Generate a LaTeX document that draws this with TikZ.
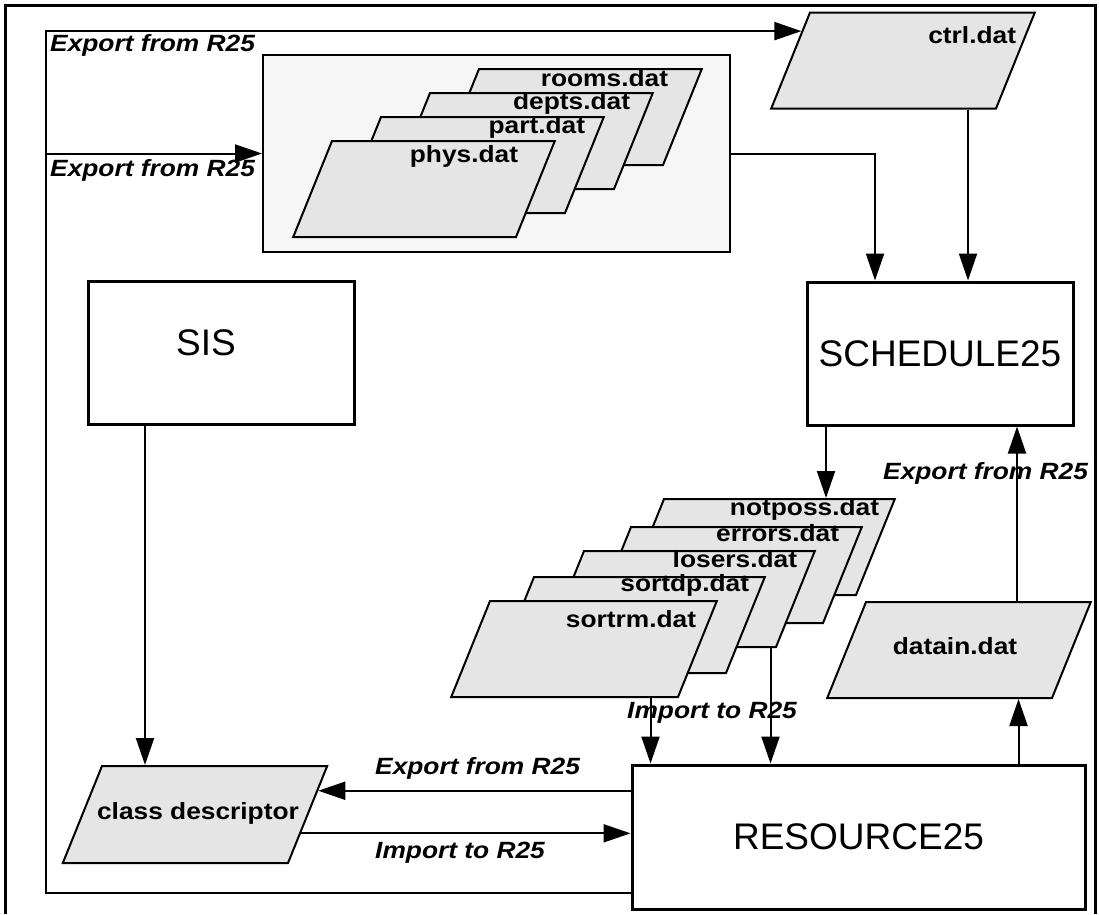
\documentclass[tikz,border=0pt]{standalone}
\usepackage{fontspec}
\setmainfont{Liberation Sans}
\newfontfamily\filefont[FakeStretch=1.12]{Liberation Sans}
\usetikzlibrary{arrows.meta,shapes.geometric,calc}

\definecolor{filegray}{gray}{0.9}
\definecolor{batchgray}{gray}{0.965}

\begin{document}
\begin{tikzpicture}[x=1pt, y=-1pt,
    every node/.style={inner sep=0pt},
    flow/.style={line width=2pt, -{Triangle[length=27pt, width=18pt]}},
    system/.style={rectangle, draw, line width=3pt, minimum width=266pt, minimum height=143pt,
        font=\fontsize{37}{40}\selectfont},
    datafile/.style={trapezium, trapezium left angle=68, trapezium right angle=112, draw,
        fill=filegray, line width=2pt, inner xsep=93pt, inner ysep=48pt},
    filename/.style={font=\filefont\bfseries\fontsize{23.5}{26}\selectfont},
    via/.style={font=\filefont\bfseries\itshape\fontsize{23.5}{26}\selectfont, anchor=base west}]

    \useasboundingbox (0,0) rectangle (1099,914);

    % outer frame
    \draw[line width=3pt] (5,914) -- (5,5) -- (1095,5) -- (1095,914);

    % R25 batch files
    \node[draw, fill=batchgray, line width=2pt, minimum width=467pt, minimum height=197pt] (batch) at (496.5,153.5) {};
    \node[datafile, inner xsep=92pt] (rooms) at (571,117) {};
    \node[datafile, inner xsep=92pt] (depts) at (522,141) {};
    \node[datafile, inner xsep=92pt] (part) at (473,165) {};
    \node[datafile, inner xsep=92pt] (phys) at (424,189) {};
    \node[filename, anchor=base east] (roomsname) at ($(rooms.top right corner)+(-35,18)$) {rooms.dat};
    \node[filename, anchor=base east] (deptsname) at ($(depts.top right corner)+(-24,17)$) {depts.dat};
    \node[filename, anchor=base east] (partname) at ($(part.top right corner)+(-20,17)$) {part.dat};
    \node[filename, anchor=base east] (physname) at ($(phys.top right corner)+(-38,22)$) {phys.dat};

    % control file
    \node[datafile] (ctrl) at (903,60.5) {};
    \node[filename, anchor=base east] (ctrlname) at ($(ctrl.top right corner)+(-20,32)$) {ctrl.dat};

    % systems
    \node[system] (sis) at (221,352.5) {};
    \node[font=\fontsize{37}{40}\selectfont] (sisname) at ($(sis)+(-15,-10)$) {SIS};
    \node[system] (sched) at (940,353.5) {SCHEDULE25};
    \node[system, minimum width=453pt, minimum height=144pt] (res) at (858.5,837) {RESOURCE25};

    % SCHEDULE25 output files
    \node[datafile, inner xsep=96pt] (notposs) at (760,547) {};
    \node[datafile, inner xsep=96pt] (errors) at (727,575) {};
    \node[datafile, inner xsep=96pt] (losers) at (680,599) {};
    \node[datafile, inner xsep=96pt] (sortdp) at (630,625) {};
    \node[datafile, inner xsep=94pt] (sortrm) at (584,649) {};
    \node[filename, anchor=base east] (notpossname) at ($(notposs.top right corner)+(-17,17)$) {notposs.dat};
    \node[filename, anchor=base east] (errorsname) at ($(errors.top right corner)+(-24,15)$) {errors.dat};
    \node[filename, anchor=base east] (losersname) at ($(losers.top right corner)+(-19,17)$) {losers.dat};
    \node[filename, anchor=base east] (sortdpname) at ($(sortdp.top right corner)+(-17,15)$) {sortdp.dat};
    \node[filename, anchor=base east] (sortrmname) at ($(sortrm.top right corner)+(-22,27)$) {sortrm.dat};

    % input file and class descriptor
    \node[datafile] (datain) at (959,650) {};
    \node[filename] (datainname) at ($(datain)+(-4,-4)$) {datain.dat};
    \node[datafile, inner ysep=48.5pt] (class) at (195,814.5) {};
    \node[filename] (classname) at ($(class)+(3,-1)$) {class descriptor};

    % connection points
    \coordinate (loopSW) at (46,893);
    \coordinate (ctrlin) at ($(ctrl.top left corner)!0.2!(ctrl.bottom left corner)$);
    \coordinate (clsout) at ($(class.top right corner)!0.26!(class.bottom right corner)$);
    \coordinate (clsin) at ($(class.top right corner)!0.69!(class.bottom right corner)$);
    \coordinate (sisout) at ([xshift=-76pt]sis.south);
    \coordinate (schedtopA) at ([xshift=-65pt]sched.north);
    \coordinate (schedtopB) at ([xshift=28pt]sched.north);
    \coordinate (schedout) at ([xshift=-114pt]sched.south);
    \coordinate (schedin) at ([xshift=77pt]sched.south);
    \coordinate (resinA) at ([xshift=-208pt]res.north);
    \coordinate (resinB) at ([xshift=-88pt]res.north);
    \coordinate (resout) at ([xshift=160pt]res.north);

    % export loop back into SCHEDULE25
    \draw[flow] (res.west |- loopSW) -- (loopSW) |- (ctrlin);
    \draw[flow] (loopSW |- batch.west) -- (batch.west);
    \node[via] (exportA) at (50,51) {Export from R25};
    \node[via] (exportB) at (50,176) {Export from R25};

    \draw[flow] (batch.east) -| (schedtopA);
    \draw[flow] (schedtopB |- ctrl.south) -- (schedtopB);
    \draw[flow] (schedout) -- (schedout |- notposs.north);

    % import back into RESOURCE25
    \draw[flow] (resinA |- sortrm.south) -- (resinA);
    \draw[flow] (resinB |- losers.south) -- (resinB);
    \node[via] (importA) at (627,718) {Import to R25};

    \draw[flow] (resout) -- (resout |- datain.south);
    \draw[flow] (schedin |- datain.north) -- (schedin);
    \node[via] (exportC) at (883,479) {Export from R25};

    % SIS and class descriptor
    \draw[flow] (sisout) -- (sisout |- class.north);
    \draw[flow] (res.west |- clsout) -- (clsout);
    \draw[flow] (clsin) -- (clsin -| res.west);
    \node[via] (exportD) at (375,774) {Export from R25};
    \node[via] (importB) at (375,858) {Import to R25};

\end{tikzpicture}
\end{document}
